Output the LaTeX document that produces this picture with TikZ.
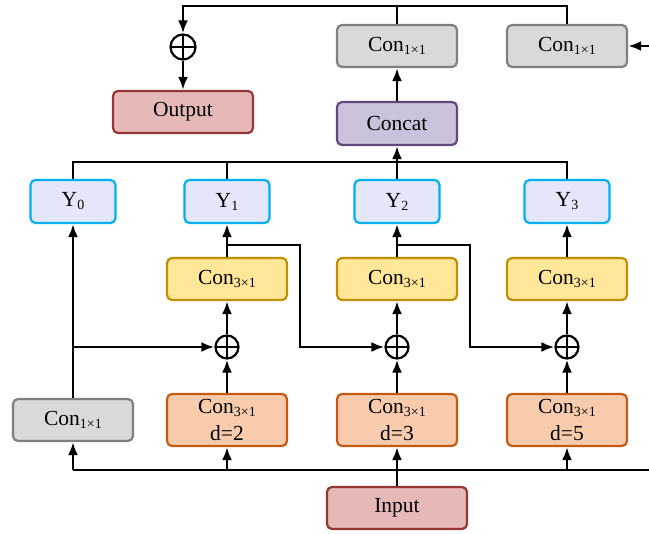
\documentclass[tikz,border=0pt]{standalone}
\usepackage{fontspec}
\setmainfont{Liberation Serif}
\usepackage{tikz}
\usetikzlibrary{shapes,arrows.meta,positioning}

\definecolor{pinkfill}{HTML}{E6B9B8}
\definecolor{pinkline}{HTML}{943634}
\definecolor{grayfill}{HTML}{D9D9D9}
\definecolor{grayline}{HTML}{7F7F7F}
\definecolor{purfill}{HTML}{CCC1DA}
\definecolor{purline}{HTML}{604A7B}
\definecolor{bluefill}{HTML}{E4E7FA}
\definecolor{blueline}{HTML}{00B0F0}
\definecolor{yelfill}{HTML}{FFE699}
\definecolor{yelline}{HTML}{BF9000}
\definecolor{orafill}{HTML}{F8CBAD}
\definecolor{oraline}{HTML}{C55A11}

\newcommand{\lowtext}[1]{\raisebox{-3pt}{\fontsize{14}{14}\selectfont #1}}

\tikzstyle{block} = [rectangle, draw, line width=2.2pt, rounded corners=5pt,
    text centered, minimum width=120pt, minimum height=42pt,
    font=\fontsize{21.5}{22}\selectfont, inner sep=1pt]
\tikzstyle{inbox} = [block, fill=pinkfill, draw=pinkline, minimum width=140pt]
\tikzstyle{onebox} = [block, fill=grayfill, draw=grayline]
\tikzstyle{catbox} = [block, fill=purfill, draw=purline, minimum height=43pt]
\tikzstyle{ybox} = [block, fill=bluefill, draw=blueline, minimum width=85pt, minimum height=43pt]
\tikzstyle{threebox} = [block, fill=yelfill, draw=yelline]
\tikzstyle{dilbox} = [block, fill=orafill, draw=oraline, minimum height=52pt, align=center]
\tikzstyle{plus} = [circle, draw, line width=2.2pt, minimum size=23pt, inner sep=0pt,
    path picture={\draw[line width=2.2pt] (path picture bounding box.north) -- (path picture bounding box.south)
      (path picture bounding box.west) -- (path picture bounding box.east);}]

\begin{document}
\begin{tikzpicture}[node distance=170pt, x=1pt, y=-1pt, line width=2.6pt, >={Latex[length=13pt,width=10pt]}]
  \useasboundingbox (0,0) rectangle (649,534);

  % input and dilated branches
  \node [inbox] (input) at (397,508) {Input};
  \node [dilbox] (dil3) at (397,420) {Con\lowtext{3×1}\\[5pt]d=3};
  \node [dilbox, left of=dil3] (dil2) {Con\lowtext{3×1}\\[5pt]d=2};
  \node [dilbox, right of=dil3] (dil5) {Con\lowtext{3×1}\\[5pt]d=5};
  \node [onebox] (first) at (73,420) {Con\lowtext{1×1}};

  \node [plus] (add1) at (227,347) {};
  \node [plus] (add2) at (397,347) {};
  \node [plus] (add3) at (567,347) {};

  \node [threebox] (cv1) at (227,279) {Con\lowtext{3×1}};
  \node [threebox] (cv2) at (397,279) {Con\lowtext{3×1}};
  \node [threebox] (cv3) at (567,279) {Con\lowtext{3×1}};

  \node [ybox] (y0) at (73,201.5) {Y\lowtext{0}};
  \node [ybox] (y1) at (227,201.5) {Y\lowtext{1}};
  \node [ybox] (y2) at (397,201.5) {Y\lowtext{2}};
  \node [ybox] (y3) at (567,201.5) {Y\lowtext{3}};

  \node [catbox] (concat) at (397,123.5) {Concat};
  \node [onebox] (fuse) at (397,46) {Con\lowtext{1×1}};
  \node [onebox] (side) at (567,46) {Con\lowtext{1×1}};

  \node [plus, minimum size=25pt] (add0) at (183,47) {};
  \node [inbox] (output) at (183,112) {Output};

  \coordinate (busl) at (73,470);
  \coordinate (busr) at (649,470);
  \coordinate (ybus) at (397,162);
  \coordinate (topl) at (183,6);
  \coordinate (sidein) at (649,46);
  \coordinate (tap1) at (227,245);
  \coordinate (tap2) at (397,245);

  % bottom bus
  \draw (busl) -- (busr);
  \draw [->] (input) -- (dil3);
  \draw [->] (busl) -- (first);
  \draw [->] (dil2 |- busl) -- (dil2);
  \draw [->] (dil5 |- busl) -- (dil5);

  % branches
  \draw [->] (first) -- (y0);
  \draw [->] (first |- add1) -- (add1);
  \draw [->] (dil2) -- (add1);
  \draw [->] (dil3) -- (add2);
  \draw [->] (dil5) -- (add3);
  \draw [->] (add1) -- (cv1);
  \draw [->] (add2) -- (cv2);
  \draw [->] (add3) -- (cv3);
  \draw [->] (cv1) -- (y1);
  \draw [->] (cv2) -- (y2);
  \draw [->] (cv3) -- (y3);
  \draw [->] (tap1) -- ++(73,0) |- (add2);
  \draw [->] (tap2) -- ++(73,0) |- (add3);

  % concat and output
  \draw (y0) |- (y3 |- ybus) -- (y3);
  \draw (y1) -- (y1 |- ybus);
  \draw [->] (y2) -- (concat);
  \draw [->] (concat) -- (fuse);
  \draw (fuse) -- (fuse |- topl);
  \draw [->] (side) |- (topl) -- (add0);
  \draw [->] (add0) -- (output);
  \draw [->] (sidein) -- (side);
\end{tikzpicture}
\end{document}
